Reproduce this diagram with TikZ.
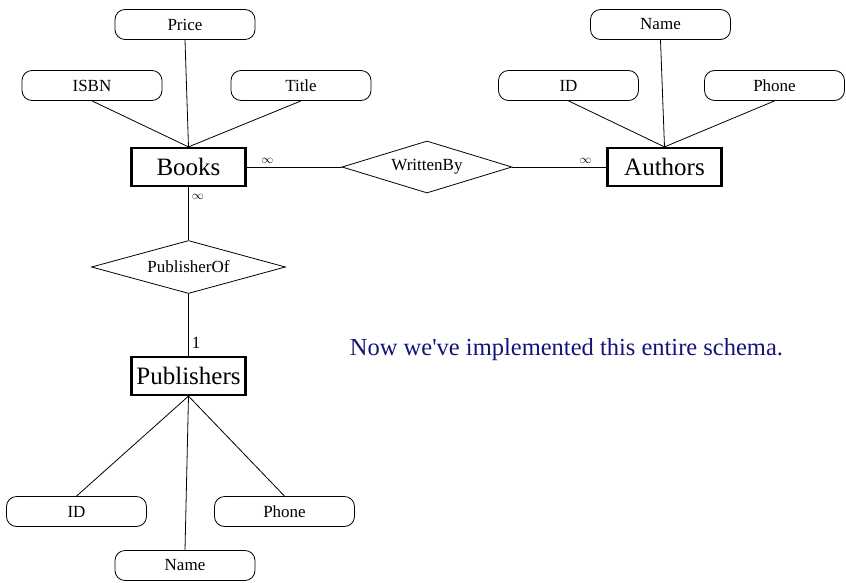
\documentclass[tikz,border=0pt]{standalone}
\usepackage{fontspec}
\setmainfont{Liberation Serif}
\usepackage{xcolor}
\usetikzlibrary{positioning,shapes.geometric}
\definecolor{notenavy}{RGB}{20,20,120}

\begin{document}
\begin{tikzpicture}[line width=0.8pt,
    node distance=46pt,
    entity/.style={draw,line width=2.2pt,minimum height=38pt,minimum width=114pt,
                   inner sep=0pt,font=\fontsize{25}{28}\selectfont},
    attr/.style={draw,rounded corners=10pt,minimum height=30pt,minimum width=140pt,
                 inner sep=0pt,font=\fontsize{17}{20}\selectfont},
    rel/.style={draw,diamond,aspect=3.2,minimum width=170pt,minimum height=52pt,
                inner sep=0pt,font=\fontsize{17}{20}\selectfont},
    card/.style={inner sep=3pt,font=\fontsize{17}{20}\selectfont},
    many/.style={inner sep=3pt,font=\fontsize{12}{14}\selectfont},
    note/.style={text=notenavy,font=\fontsize{24.5}{28}\selectfont}]
  \useasboundingbox (-188.5pt,167pt) rectangle (657.5pt,-415pt);

  % Books and its attributes
  \node[entity] (books) at (0,0) {Books};
  \node[attr,above=107pt of books,xshift=-3.5pt] (price) {Price};
  \node[attr,above=of books,xshift=-96.5pt] (isbn) {ISBN};
  \node[attr,above=of books,xshift=112.5pt] (title) {Title};

  % Authors side
  \node[rel,right=95pt of books] (written) {WrittenBy};
  \node[entity,right=94pt of written] (authors) {Authors};
  \node[attr,above=107pt of authors,xshift=-4pt] (aname) {Name};
  \node[attr,above=of authors,xshift=-96pt] (aid) {ID};
  \node[attr,above=of authors,xshift=110pt] (aphone) {Phone};

  % Publishers side
  \node[rel,below=53pt of books,minimum width=194pt,minimum height=53pt] (pubof) {PublisherOf};
  \node[entity,below=62pt of pubof] (publishers) {Publishers};
  \node[attr,below=100pt of publishers,xshift=-112pt] (pid) {ID};
  \node[attr,below=100pt of publishers,xshift=96pt] (pphone) {Phone};
  \node[attr,below=154pt of publishers,xshift=-3.5pt] (pname) {Name};

  \node[note] (remark) at (378pt,-183pt) {Now we\textquotesingle ve implemented this entire schema.};

  \draw (price.south) -- (books.north);
  \draw (isbn.south)  -- (books.north);
  \draw (title.south) -- (books.north);
  \draw (aname.south)  -- (authors.north);
  \draw (aid.south)    -- (authors.north);
  \draw (aphone.south) -- (authors.north);
  \draw (publishers.south) -- (pid.north);
  \draw (publishers.south) -- (pname.north);
  \draw (publishers.south) -- (pphone.north);

  \draw (books) -- node[many,above,pos=0.22] {$\infty$} (written);
  \draw (written) -- node[many,above,pos=0.78] {$\infty$} (authors);
  \draw (books) -- node[many,right,pos=0.19] {$\infty$} (pubof);
  \draw (pubof) -- node[card,right,pos=0.79] {1} (publishers);
\end{tikzpicture}
\end{document}
